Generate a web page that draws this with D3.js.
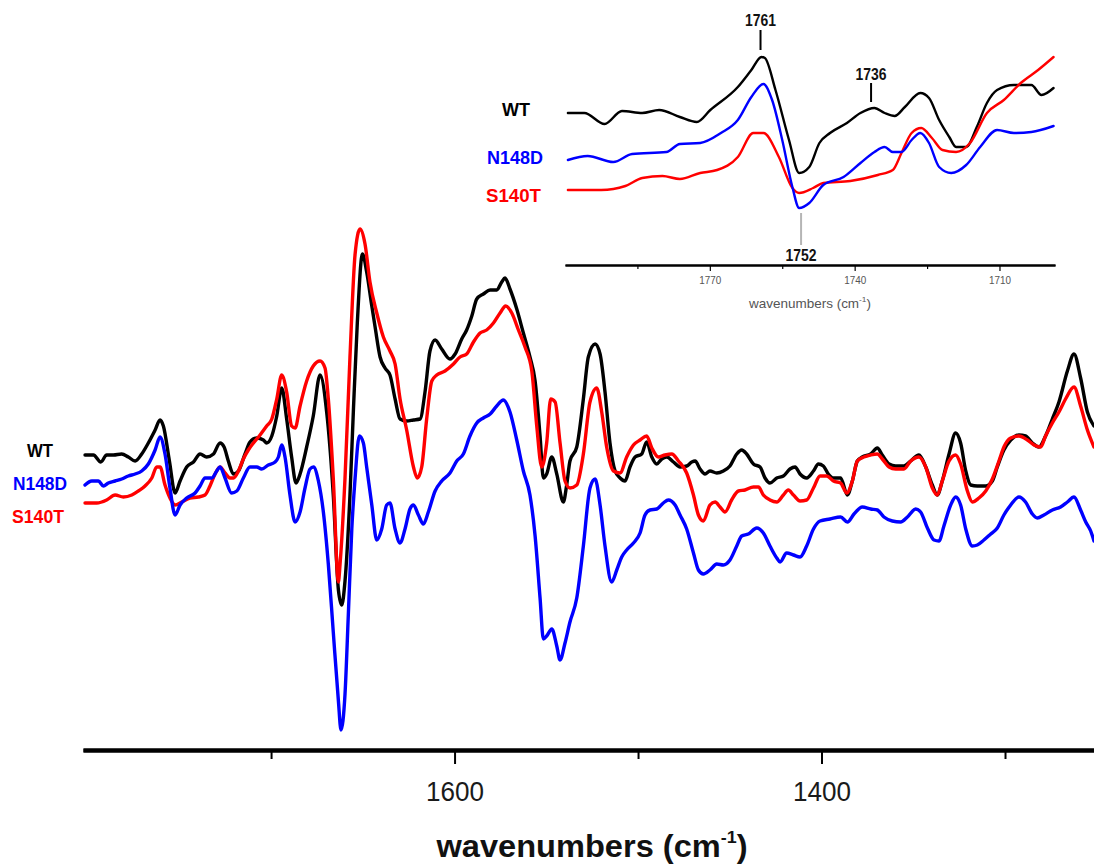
<!DOCTYPE html>
<html><head><meta charset="utf-8">
<script src="https://cdn.jsdelivr.net/npm/d3@7"></script>
<style>
body{margin:0;background:#fff}
svg{display:block}
text{font-family:"Liberation Sans",Arial,Helvetica,sans-serif}
</style>
</head><body>
<svg id="chart" width="1094" height="866"></svg>
<script>
// ---------------- DATA ----------------
const seriesNames = ["WT", "N148D", "S140T"];
const seriesColors = ["#000000", "#0000ff", "#ff0000"];

// main spectra: [wavenumber (cm-1), difference signal (arb. units)]
const wtMain = [[1801.4,29.5],[1796.8,29.5],[1792.8,28.8],[1789.6,29.5],[1785.9,29.5],[1781.4,29.6],[1777.8,29.3],[1774.1,28.9],[1770.5,29.6],[1766.9,30.7],[1763.2,32.0],[1760.5,33.0],[1758.7,32.4],[1755.4,28.9],[1752.3,25.7],[1749.6,26.9],[1746.0,28.3],[1742.3,28.8],[1738.7,29.6],[1735.1,29.3],[1731.4,29.6],[1727.8,30.7],[1725.6,30.3],[1723.3,28.9],[1720.5,27.6],[1717.8,27.9],[1714.2,29.6],[1711.5,30.8],[1707.8,31.2],[1704.2,31.0],[1702.4,30.7],[1699.6,31.4],[1696.9,33.4],[1694.2,36.2],[1691.5,33.1],[1688.8,29.3],[1686.4,26.7],[1684.2,27.6],[1680.6,30.3],[1677.0,33.4],[1673.3,37.5],[1669.7,33.8],[1666.1,25.5],[1663.3,16.0],[1661.5,14.5],[1659.7,16.9],[1657.0,25.5],[1655.1,34.1],[1653.0,42.7],[1650.2,49.6],[1647.9,47.8],[1645.1,44.4],[1643.3,42.3],[1640.6,39.3],[1637.9,38.2],[1635.2,37.5],[1632.4,35.1],[1629.7,33.1],[1626.1,32.9],[1622.4,33.0],[1618.8,33.1],[1616.1,35.8],[1613.4,39.9],[1610.6,41.0],[1607.0,40.1],[1602.5,39.1],[1599.7,39.6],[1596.1,41.1],[1593.4,42.0],[1590.6,43.4],[1587.9,45.1],[1584.3,45.6],[1580.6,46.0],[1577.0,46.0],[1574.3,46.8],[1572.5,47.2],[1569.8,46.1],[1566.1,44.1],[1562.5,41.7],[1558.9,39.3],[1556.1,36.9],[1553.4,31.4],[1551.6,27.2],[1549.8,27.6],[1547.0,29.3],[1544.3,27.6],[1540.7,24.8],[1538.9,26.5],[1537.1,28.9],[1533.4,30.3],[1529.8,35.1],[1527.1,39.3],[1523.4,40.6],[1520.7,39.6],[1518.0,35.8],[1515.3,30.7],[1512.5,27.9],[1509.8,27.2],[1507.1,26.9],[1504.4,28.3],[1501.6,29.3],[1498.0,29.6],[1495.3,30.8],[1492.5,29.3],[1489.8,28.6],[1487.1,29.1],[1484.4,29.3],[1480.7,28.8],[1477.1,28.3],[1473.5,28.4],[1470.7,28.8],[1468.9,28.9],[1466.2,28.1],[1463.5,27.6],[1460.8,27.9],[1457.1,27.7],[1453.5,27.9],[1449.9,28.4],[1446.2,29.6],[1443.5,30.0],[1440.8,29.6],[1437.1,28.6],[1433.5,28.3],[1430.8,27.2],[1428.1,26.7],[1424.4,27.2],[1420.8,27.4],[1417.2,28.1],[1414.4,28.3],[1411.7,27.6],[1408.1,27.2],[1404.4,27.9],[1401.7,28.6],[1399.0,28.4],[1396.3,27.6],[1393.5,27.2],[1389.6,27.2],[1385.9,25.5],[1383.2,26.9],[1380.5,28.9],[1377.8,29.3],[1373.2,29.6],[1369.6,30.2],[1366.9,29.5],[1363.2,28.6],[1359.6,28.4],[1355.1,28.4],[1351.4,28.9],[1346.9,29.5],[1343.2,28.3],[1339.6,26.5],[1336.9,25.5],[1334.2,26.9],[1330.5,29.6],[1326.9,31.7],[1324.2,30.7],[1321.4,27.9],[1318.7,26.5],[1315.1,26.4],[1310.5,26.4],[1306.9,26.9],[1304.2,28.3],[1300.6,30.0],[1296.9,31.0],[1292.4,31.5],[1288.8,31.4],[1285.1,30.7],[1281.5,30.3],[1277.9,31.4],[1274.2,33.1],[1270.6,34.8],[1266.0,37.9],[1262.4,39.6],[1258.8,37.2],[1255.1,33.8],[1251.5,32.4]];

const n148dMain = [[1801.4,26.5],[1797.7,26.9],[1794.1,26.9],[1791.4,26.4],[1788.7,26.7],[1785.0,26.9],[1781.4,27.1],[1777.8,27.4],[1774.1,27.6],[1770.5,27.9],[1766.9,28.6],[1763.2,30.0],[1760.5,31.3],[1757.8,29.6],[1755.1,26.2],[1752.3,23.5],[1749.6,24.5],[1746.0,25.2],[1741.4,25.7],[1738.7,26.4],[1736.0,27.2],[1732.3,27.2],[1729.6,27.9],[1727.8,28.3],[1725.1,27.2],[1721.5,25.7],[1718.7,25.9],[1715.1,27.2],[1711.5,28.3],[1707.8,28.3],[1705.1,28.1],[1701.5,28.5],[1697.8,28.8],[1696.0,29.3],[1694.2,30.5],[1692.4,29.3],[1689.7,25.5],[1686.9,22.8],[1684.2,23.8],[1681.5,26.2],[1678.8,28.1],[1676.9,28.3],[1674.2,26.9],[1671.5,23.8],[1668.8,18.6],[1666.1,11.8],[1663.3,4.9],[1661.9,2.0],[1659.7,5.6],[1657.9,13.5],[1656.0,22.1],[1654.2,27.2],[1651.9,31.4],[1649.7,30.7],[1647.9,28.3],[1645.1,24.5],[1642.4,21.0],[1639.7,22.1],[1637.0,24.5],[1635.2,24.7],[1632.4,22.1],[1629.7,20.7],[1627.0,22.1],[1624.3,24.1],[1622.4,24.5],[1619.7,23.5],[1617.0,22.6],[1614.3,23.8],[1610.6,25.9],[1607.0,26.9],[1602.5,27.7],[1598.8,28.9],[1595.2,29.6],[1591.6,31.4],[1587.9,32.7],[1584.3,33.2],[1580.6,33.6],[1577.0,34.4],[1573.4,35.0],[1569.8,33.8],[1566.1,31.0],[1562.5,27.9],[1558.9,25.5],[1556.1,21.4],[1553.4,15.2],[1551.6,11.1],[1549.8,11.4],[1547.0,12.1],[1544.3,10.4],[1542.5,9.0],[1539.8,10.7],[1537.1,12.8],[1533.4,15.2],[1529.8,20.4],[1526.2,26.2],[1523.4,27.1],[1520.7,24.5],[1518.0,20.4],[1514.4,16.8],[1511.6,18.0],[1508.9,19.3],[1506.2,20.0],[1502.5,20.7],[1498.9,21.7],[1496.2,23.5],[1493.5,24.0],[1489.8,24.1],[1486.2,24.7],[1483.5,25.0],[1479.8,24.5],[1477.1,23.5],[1473.5,22.1],[1469.8,19.7],[1467.1,18.0],[1464.4,17.6],[1460.8,18.0],[1457.1,18.6],[1453.5,18.5],[1449.9,19.0],[1446.2,20.4],[1443.5,21.4],[1439.9,21.6],[1435.3,22.2],[1431.7,21.7],[1428.1,20.4],[1424.4,19.2],[1422.6,18.8],[1419.0,19.7],[1415.3,19.5],[1411.7,19.3],[1408.1,20.4],[1404.4,22.1],[1400.8,22.9],[1395.4,23.1],[1389.6,23.3],[1385.9,22.8],[1382.3,23.6],[1377.8,24.3],[1373.2,24.1],[1369.6,24.0],[1366.0,23.3],[1361.4,22.9],[1356.9,22.8],[1353.2,23.3],[1348.7,24.1],[1346.0,23.8],[1342.3,22.2],[1338.7,21.0],[1336.0,20.9],[1333.3,22.4],[1329.6,24.5],[1326.9,25.3],[1324.2,24.5],[1321.4,22.1],[1317.8,20.4],[1315.1,20.5],[1311.5,21.0],[1307.8,21.6],[1304.2,22.2],[1300.6,23.5],[1296.9,24.5],[1292.4,25.3],[1288.8,24.8],[1285.1,23.6],[1282.4,23.2],[1278.8,23.5],[1274.2,24.0],[1269.7,24.3],[1266.0,24.8],[1262.4,25.3],[1258.8,24.0],[1256.0,22.8],[1253.3,21.9],[1251.5,20.9]];

const s140tMain = [[1801.4,24.7],[1795.0,24.7],[1789.6,25.0],[1785.0,25.5],[1780.5,25.3],[1775.9,25.5],[1772.3,25.9],[1768.7,26.4],[1765.0,27.2],[1762.3,28.3],[1760.5,28.3],[1757.8,26.5],[1755.1,25.2],[1752.3,24.5],[1748.7,24.8],[1744.2,25.2],[1739.6,25.3],[1736.0,25.5],[1733.3,26.4],[1730.5,27.6],[1727.8,28.3],[1725.1,27.7],[1722.4,27.2],[1720.5,27.2],[1717.8,27.9],[1715.1,29.1],[1712.4,30.0],[1709.6,30.7],[1706.0,31.5],[1702.4,32.4],[1699.6,33.1],[1696.9,35.1],[1694.2,37.5],[1691.5,35.8],[1688.8,32.4],[1686.9,32.2],[1684.2,34.4],[1680.6,36.9],[1677.0,38.4],[1673.3,38.9],[1670.6,38.2],[1668.8,35.1],[1666.1,27.2],[1663.3,16.8],[1662.4,18.6],[1659.7,27.2],[1657.0,39.3],[1654.2,49.6],[1651.5,52.1],[1648.8,50.6],[1646.1,46.8],[1642.4,43.7],[1638.8,41.3],[1635.2,39.9],[1632.4,38.6],[1629.7,35.1],[1626.1,32.0],[1622.4,28.3],[1620.3,27.2],[1617.9,28.3],[1615.2,33.1],[1612.4,36.9],[1609.7,37.5],[1605.2,37.9],[1600.6,38.6],[1597.0,39.3],[1593.4,39.6],[1589.7,40.8],[1586.1,41.7],[1582.5,42.0],[1578.8,42.7],[1575.2,43.7],[1572.1,44.4],[1568.8,43.7],[1565.2,42.0],[1561.6,40.3],[1557.9,37.9],[1555.2,32.4],[1552.5,28.3],[1549.8,30.7],[1547.6,35.1],[1545.2,34.8],[1542.5,30.7],[1539.8,26.9],[1537.1,26.2],[1533.4,26.5],[1529.8,29.6],[1526.2,34.8],[1522.5,36.2],[1519.8,33.8],[1517.1,30.3],[1513.4,27.9],[1509.8,27.7],[1506.2,29.3],[1502.5,30.5],[1498.9,31.0],[1495.3,31.4],[1492.5,30.2],[1488.9,29.3],[1485.3,29.5],[1481.6,29.6],[1478.0,28.9],[1473.5,27.7],[1469.8,25.5],[1467.1,23.5],[1464.4,22.9],[1460.8,24.5],[1458.0,24.8],[1455.3,24.3],[1452.6,23.8],[1449.0,25.0],[1445.3,25.9],[1441.7,26.0],[1437.1,26.3],[1434.4,26.3],[1431.7,25.5],[1428.1,25.0],[1424.4,24.8],[1420.8,25.5],[1418.1,26.0],[1415.3,25.5],[1411.7,24.9],[1408.1,25.0],[1404.4,26.2],[1400.8,27.4],[1397.2,27.4],[1393.5,26.9],[1389.6,26.7],[1386.3,25.7],[1383.2,26.9],[1380.5,28.9],[1376.9,29.3],[1373.2,29.5],[1369.6,29.6],[1366.9,29.1],[1363.2,28.3],[1359.6,28.1],[1355.1,28.1],[1351.4,28.9],[1346.9,29.3],[1343.2,28.3],[1339.6,26.2],[1336.9,25.5],[1334.2,26.9],[1330.5,28.9],[1326.9,29.5],[1324.2,28.6],[1320.5,25.9],[1317.8,24.8],[1314.2,25.2],[1310.5,25.9],[1306.9,27.1],[1303.3,28.9],[1300.6,30.3],[1296.9,31.2],[1292.4,31.4],[1287.8,31.0],[1284.2,30.5],[1280.6,30.3],[1277.9,31.4],[1274.2,32.7],[1270.6,33.8],[1267.0,35.1],[1262.4,36.3],[1258.8,34.4],[1255.1,32.0],[1251.5,30.3]];

// inset (1800-1700 cm-1 region)
const wtInset = [[1799.4,15.2],[1796.0,15.2],[1791.8,14.1],[1788.2,15.4],[1784.0,15.2],[1780.5,15.5],[1776.2,14.8],[1772.7,14.3],[1769.9,15.5],[1764.2,17.8],[1761.4,19.5],[1759.3,20.8],[1758.6,20.7],[1756.4,17.5],[1753.6,12.5],[1751.5,9.2],[1749.4,9.8],[1747.3,12.2],[1745.1,13.2],[1741.6,14.2],[1738.8,15.2],[1735.9,15.7],[1733.8,15.2],[1731.7,14.9],[1729.6,15.8],[1726.4,17.2],[1724.6,16.7],[1722.5,14.5],[1720.4,12.8],[1719.0,11.8],[1716.9,11.8],[1714.7,13.8],[1712.6,16.2],[1710.5,17.5],[1707.0,18.0],[1703.4,18.0],[1701.3,17.0],[1698.8,17.7]];
const n148dInset = [[1799.4,10.5],[1795.3,10.9],[1790.0,10.3],[1786.1,11.1],[1779.0,11.3],[1776.2,12.1],[1772.0,12.2],[1767.7,13.2],[1764.2,14.5],[1761.4,16.8],[1758.9,18.1],[1757.1,16.5],[1755.0,12.5],[1752.9,7.8],[1751.5,5.7],[1749.4,6.2],[1746.5,8.0],[1742.3,8.8],[1738.8,10.2],[1735.9,11.3],[1733.8,11.8],[1732.1,11.3],[1730.3,11.3],[1728.2,12.5],[1726.4,13.2],[1724.6,12.2],[1722.5,9.8],[1720.0,9.2],[1716.9,10.0],[1714.0,11.8],[1710.5,13.5],[1707.0,13.2],[1703.4,13.3],[1698.8,13.9]];
const s140tInset = [[1799.4,7.5],[1792.5,7.5],[1787.5,7.9],[1784.0,8.7],[1779.8,8.9],[1776.2,8.6],[1772.0,9.2],[1768.5,9.5],[1764.2,10.8],[1761.0,13.2],[1758.9,13.2],[1755.7,10.8],[1752.9,7.7],[1751.5,7.2],[1748.6,7.7],[1746.5,8.2],[1740.9,8.4],[1735.2,9.0],[1732.1,9.5],[1730.3,11.2],[1728.2,13.2],[1726.2,13.7],[1724.0,12.7],[1721.8,11.5],[1719.0,11.3],[1716.1,12.2],[1712.6,15.2],[1709.1,16.5],[1705.6,18.2],[1702.0,19.5],[1698.8,20.8]];

const mainMinorTicks = [1700, 1500, 1300];
const mainMajorTicks = [1600, 1400];
const insetMinorTicks = [1785, 1755, 1725];
const insetMajorTicks = [1770, 1740, 1710];
const peakLabels = ["1761", "1736", "1752"];
const peakWavenumbers = [1759.5, 1736.6, 1751.1];
const axisTitle = "wavenumbers (cm";
const axisTitleSup = "-1";

// ---------------- DRAW ----------------
const svg = d3.select("#chart");
svg.append("rect").attr("width", 1094).attr("height", 866).attr("fill", "#fff");

const x = d3.scaleLinear().domain([1802.5, 1251.5]).range([83, 1094]);
const y = d3.scaleLinear().domain([0, 53]).range([750, 220]);
const xi = d3.scaleLinear().domain([1800, 1698.5]).range([565, 1055]);
const yi = d3.scaleLinear().domain([0, 26.5]).range([265, 0]);

const mainSeries = [wtMain, n148dMain, s140tMain];
const insetSeries = [wtInset, n148dInset, s140tInset];
const drawOrder = [0, 2, 1];

const lineMain = d3.line().x(d => x(d[0])).y(d => y(d[1])).curve(d3.curveMonotoneX);
const lineInset = d3.line().x(d => xi(d[0])).y(d => yi(d[1])).curve(d3.curveMonotoneX);

// main curves
drawOrder.forEach(i => {
  svg.append("path").datum(mainSeries[i])
    .attr("d", lineMain).attr("fill", "none")
    .attr("stroke", seriesColors[i]).attr("stroke-width", 3.4)
    .attr("stroke-linejoin", "round").attr("stroke-linecap", "round");
});

// main axis
function styleAxis(g, domainW, tickW) {
  g.select(".domain").attr("stroke", "#000").attr("stroke-width", domainW);
  g.selectAll(".tick line").attr("stroke", "#000").attr("stroke-width", tickW);
}
const gMinor = svg.append("g").attr("transform", "translate(0,750)")
  .call(d3.axisBottom(x).tickValues(mainMinorTicks).tickSize(9).tickSizeOuter(0).tickFormat(""));
styleAxis(gMinor, 4, 2);
const gMajor = svg.append("g").attr("transform", "translate(0,750)")
  .call(d3.axisBottom(x).tickValues(mainMajorTicks).tickSize(14).tickSizeOuter(0).tickFormat(d3.format("d")));
styleAxis(gMajor, 4, 2);
gMajor.selectAll(".tick text")
  .attr("y", 51).attr("dy", null)
  .attr("font-size", 27).attr("fill", "#1a1a1a")
  .attr("font-family", "'Liberation Sans',Arial,sans-serif")
  .attr("textLength", 58).attr("lengthAdjust", "spacingAndGlyphs");

// main title
const title = svg.append("text").attr("x", 592).attr("y", 857)
  .attr("text-anchor", "middle").attr("font-size", 31).attr("font-weight", "bold")
  .attr("fill", "#111").attr("textLength", 311).attr("lengthAdjust", "spacingAndGlyphs");
title.append("tspan").text(axisTitle);
title.append("tspan").text(axisTitleSup).attr("font-size", 17).attr("dy", -14);
title.append("tspan").text(")").attr("dy", 14);

// main legend
const mainLegendX = [27, 13, 12];
const mainLegendY = [457, 490, 523];
const mainLegendW = [26, 54, 52];
seriesNames.forEach((n, i) => {
  svg.append("text").attr("x", mainLegendX[i]).attr("y", mainLegendY[i])
    .attr("font-size", 19).attr("font-weight", "bold").attr("fill", seriesColors[i])
    .attr("textLength", mainLegendW[i]).attr("lengthAdjust", "spacingAndGlyphs").text(n);
});

// ---------------- INSET ----------------
drawOrder.forEach(i => {
  svg.append("path").datum(insetSeries[i])
    .attr("d", lineInset).attr("fill", "none")
    .attr("stroke", seriesColors[i]).attr("stroke-width", 2.4)
    .attr("stroke-linejoin", "round").attr("stroke-linecap", "round");
});

const giMinor = svg.append("g").attr("transform", "translate(0,265)")
  .call(d3.axisBottom(xi).tickValues(insetMinorTicks).tickSize(4).tickSizeOuter(0).tickFormat(""));
styleAxis(giMinor, 2, 1.2);
const giMajor = svg.append("g").attr("transform", "translate(0,265)")
  .call(d3.axisBottom(xi).tickValues(insetMajorTicks).tickSize(6).tickSizeOuter(0).tickFormat(d3.format("d")));
styleAxis(giMajor, 2, 1.2);
giMajor.selectAll(".tick text")
  .attr("y", 19).attr("dy", null)
  .attr("font-size", 11).attr("fill", "#555")
  .attr("font-family", "'Liberation Sans',Arial,sans-serif")
  .attr("textLength", 22).attr("lengthAdjust", "spacingAndGlyphs");

const ititle = svg.append("text").attr("x", 810).attr("y", 308)
  .attr("text-anchor", "middle").attr("font-size", 13).attr("fill", "#555")
  .attr("textLength", 122).attr("lengthAdjust", "spacingAndGlyphs");
ititle.append("tspan").text(axisTitle);
ititle.append("tspan").text(axisTitleSup).attr("font-size", 8).attr("dy", -6);
ititle.append("tspan").text(")").attr("dy", 6);

// inset legend
const insetLegendX = [502, 487, 486];
const insetLegendY = [116, 164, 202];
const insetLegendW = [28, 56, 55];
seriesNames.forEach((n, i) => {
  svg.append("text").attr("x", insetLegendX[i]).attr("y", insetLegendY[i])
    .attr("font-size", 19).attr("font-weight", "bold").attr("fill", seriesColors[i])
    .attr("textLength", insetLegendW[i]).attr("lengthAdjust", "spacingAndGlyphs").text(n);
});

// peak annotations
const peakLine = [[30, 50], [83, 102], [213, 245]];
const peakTextY = [26, 80, 261];
const peakLineColor = ["#000", "#000", "#b5b5b5"];
peakLabels.forEach((lab, i) => {
  const px = xi(peakWavenumbers[i]);
  svg.append("line").attr("x1", px).attr("x2", px)
    .attr("y1", peakLine[i][0]).attr("y2", peakLine[i][1])
    .attr("stroke", peakLineColor[i]).attr("stroke-width", 2);
  svg.append("text").attr("x", px).attr("y", peakTextY[i])
    .attr("text-anchor", "middle").attr("font-size", 17).attr("font-weight", "bold")
    .attr("fill", "#111").attr("textLength", 31).attr("lengthAdjust", "spacingAndGlyphs").text(lab);
});
</script>
</body></html>
